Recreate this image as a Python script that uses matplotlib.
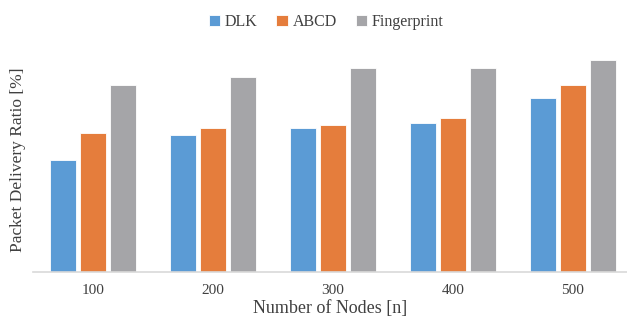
import numpy as np
import matplotlib.pyplot as plt

plt.rcParams['font.family'] = ['Liberation Serif', 'DejaVu Serif']

nodes = ['100', '200', '300', '400', '500']
dlk = [112, 137, 144, 149, 174]
abcd = [139, 144, 147, 154, 187]
fingerprint = [187, 195, 204, 204, 212]

fig = plt.figure(figsize=(6.27, 3.2), dpi=100)
ax = fig.add_axes([33 / 627, 48 / 320, 594 / 627, 224 / 320])

x = np.arange(len(nodes))
w = 0.21
ax.bar(x - 0.25, dlk, w, color='#5B9BD5', edgecolor='white', linewidth=0.6, label='DLK')
ax.bar(x, abcd, w, color='#E57D3C', edgecolor='white', linewidth=0.6, label='ABCD')
ax.bar(x + 0.25, fingerprint, w, color='#A5A5A8', edgecolor='white', linewidth=0.6, label='Fingerprint')

ax.set_xlim(-0.5, 4.45)
ax.set_ylim(0, 224)
ax.set_xticks(x)
ax.set_xticklabels(nodes, fontsize=11)
ax.set_yticks([])
ax.tick_params(axis='x', length=0, pad=9, colors='#404040')
for s in ['top', 'right', 'left']:
    ax.spines[s].set_visible(False)
ax.spines['bottom'].set_color('#D9D9D9')
ax.spines['bottom'].set_linewidth(1.2)

ax.set_xlabel('Number of Nodes [n]', fontsize=13, color='#404040', labelpad=2)
ax.set_ylabel('Packet Delivery Ratio [%]', fontsize=12.5, color='#404040', labelpad=5)

fig.legend(loc='upper center', bbox_to_anchor=(0.52, 1.0), ncol=3, frameon=False,
           fontsize=11.5, handlelength=0.7, handleheight=0.7, handletextpad=0.3,
           columnspacing=1.2, labelcolor='#404040')

fig.savefig('out.png')
